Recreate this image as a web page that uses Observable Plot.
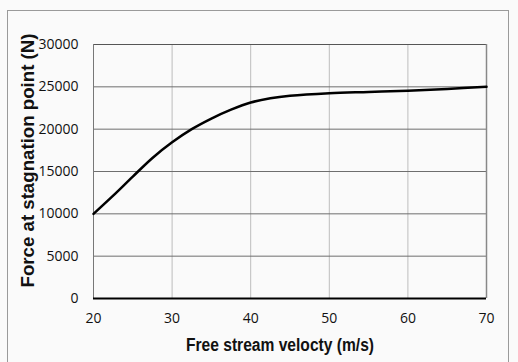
<!DOCTYPE html>
<html><head><meta charset="utf-8">
<script src="https://cdn.jsdelivr.net/npm/d3@7"></script>
<script src="https://cdn.jsdelivr.net/npm/@observablehq/plot@0.6"></script>
<style>
html,body{margin:0;padding:0;background:#fafafa;}
#wrap{position:relative;width:518px;height:362px;overflow:hidden;background:#fafafa;}
#border{position:absolute;left:7px;top:10px;width:502px;height:400px;border:1px solid #9a9a9a;box-sizing:border-box;}
#chart{position:absolute;left:0;top:0;}
</style></head>
<body><div id="wrap"><div id="border"></div><div id="chart"></div></div>
<script>
const velocity = [20, 22.5, 25, 27.5, 30, 32.5, 35, 37.5, 40, 42.5, 45, 50, 55, 60, 65, 70];
const force = [10000, 12150, 14400, 16600, 18450, 20000, 21250, 22300, 23150, 23650, 23950, 24250, 24400, 24550, 24750, 25000];
const xTicks = [20, 30, 40, 50, 60, 70];
const yTicks = [0, 5000, 10000, 15000, 20000, 25000, 30000];
const data = velocity.map((v, i) => ({v, f: force[i]}));

const chart = Plot.plot({
  width: 518, height: 362,
  marginLeft: 93, marginRight: 32, marginTop: 44, marginBottom: 64,
  style: {background: "transparent", fontFamily: "'Open Sans', sans-serif", fontSize: "14px", color: "#111"},
  x: {domain: [20, 70]},
  y: {domain: [0, 30000]},
  marks: [
    Plot.ruleX(xTicks.slice(1, -1), {stroke: "#bdbdbd", strokeWidth: 1}),
    Plot.ruleY(yTicks.slice(1, -1), {stroke: "#6e6e6e", strokeWidth: 1}),
    Plot.ruleY([30000], {stroke: "#555", strokeWidth: 1}),
    Plot.ruleX([20], {stroke: "#777", strokeWidth: 1}),
    Plot.ruleX([70], {stroke: "#888", strokeWidth: 1.5}),
    Plot.ruleY([0], {stroke: "#000", strokeWidth: 2}),
    Plot.line(data, {x: "v", y: "f", curve: "catmull-rom", stroke: "#000", strokeWidth: 2.5}),
    Plot.axisX({ticks: xTicks, tickSize: 0, tickPadding: 15, tickFormat: d => String(d),
      label: "Free stream velocty (m/s)", labelAnchor: "center", labelArrow: "none", labelOffset: 52}),
    Plot.axisY({ticks: yTicks, tickSize: 0, tickPadding: 15, tickFormat: d => String(d),
      label: "Force at stagnation point (N)", labelAnchor: "center", labelArrow: "none", labelOffset: 72})
  ]
});
const svg = d3.select(chart);
svg.selectAll('[aria-label="x-axis tick label"] text, [aria-label="y-axis tick label"] text')
  .style("font-size", "14px").style("fill", "#111");
svg.selectAll('[aria-label="x-axis tick label"], [aria-label="y-axis tick label"]')
  .attr("font-size", 14);
function shift(sel, dx, dy) {
  sel.each(function() {
    const t = d3.select(this).attr("transform") || "";
    d3.select(this).attr("transform", `translate(${dx},${dy}) ` + t);
  });
}
const xl = svg.selectAll('[aria-label="x-axis label"] text')
  .style("font-family", "'Liberation Sans', Arial, sans-serif").style("font-weight", "bold").style("font-size", "18px")
  .attr("textLength", 188).attr("lengthAdjust", "spacingAndGlyphs");
shift(xl, -10, 0);
const yl = svg.selectAll('[aria-label="y-axis label"] text')
  .style("font-family", "'Liberation Sans', Arial, sans-serif").style("font-weight", "bold").style("font-size", "18px")
  .attr("textLength", 254).attr("lengthAdjust", "spacingAndGlyphs");
shift(yl, 0, -11);
document.getElementById("chart").appendChild(chart);
</script></body></html>
